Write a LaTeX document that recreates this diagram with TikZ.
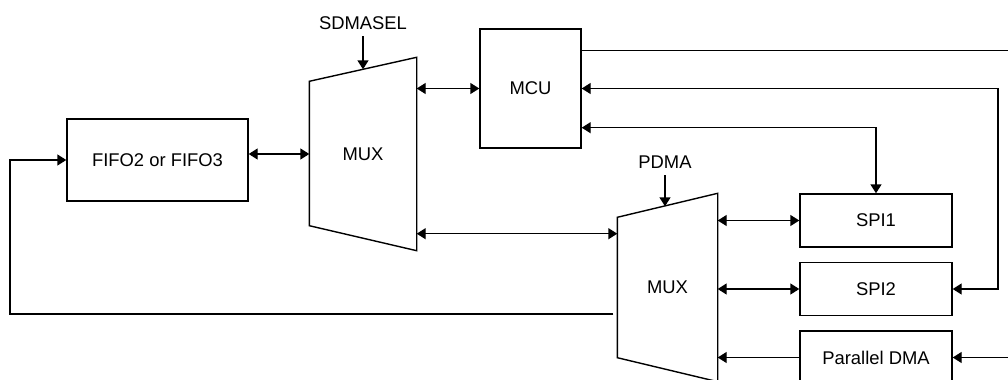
\documentclass[tikz,border=0pt]{standalone}
\usepackage{fontspec}
\setmainfont{Liberation Sans}
\usetikzlibrary{arrows.meta,calc}

\begin{document}
\begin{tikzpicture}[x=0.5pt,y=-0.5pt,
  font=\fontsize{9.2pt}{11pt}\selectfont,
  line width=0.7pt,
  >={Triangle[length=4.5pt,width=5.5pt]},
  blk/.style={draw,inner sep=0pt,minimum width=76pt,minimum height=26.5pt},
  muxbox/.style={inner sep=0pt},
  sel/.style={inner sep=3pt}]
\useasboundingbox (0,0) rectangle (1008,380);
\clip (0,0) rectangle (1008,380);

\node[blk,minimum width=90.5pt,minimum height=41pt] (fifo) at (157.5,160){FIFO2 or FIFO3};
\node[muxbox,minimum width=53pt,minimum height=96pt] (mux1) at (363,154){MUX};
\node[blk,minimum width=50.5pt,minimum height=59.5pt] (mcu) at (530.5,88.5){MCU};
\node[muxbox,minimum width=49.5pt,minimum height=93.5pt] (mux2) at (667.5,287.5){MUX};
\node[blk] (spi1) at (876,220.5){SPI1};
\node[blk] (spi2) at (876,289){SPI2};
\node[blk] (pdma) at (876,357.5){Parallel DMA};
\node[sel] (sdmasel) at (363,23){SDMASEL};
\node[sel] (pdmasel) at (665,162){PDMA};

% mux outlines
\draw (mux1.north east) -- (mux1.south east) -- ($(mux1.south west)+(0,-25)$) -- ($(mux1.north west)+(0,24)$) -- cycle;
\draw (mux2.north east) -- (mux2.south east) -- ($(mux2.south west)+(0,-24)$) -- ($(mux2.north west)+(0,24)$) -- cycle;

\coordinate (mux1top) at ($(mux1.north)+(0,12)$);
\coordinate (mux2top) at ($(mux2.north)+(0,13)$);
\coordinate (m12) at ($(mux1.south east)+(0,-17)$);
\coordinate (mcuout) at ($(mcu.north east)+(0,22)$);
\coordinate (mcuin) at ($(mcu.south east)+(0,-21)$);
\coordinate (fb) at ($(mux2.west)+(-4,26.5)$);
\coordinate (rx) at (998,0);
\coordinate (lx) at (10,0);
\coordinate (edge) at (1008,0);

\draw[->] (sdmasel.south) -- (sdmasel.south |- mux1top);
\draw[->] (pdmasel.south) -- (pdmasel.south |- mux2top);

\draw[<->] (fifo.east |- mux1.west) -- (mux1.west);
\draw[<->] (mux1.east |- mcu.west) -- (mcu.west);
\draw[<->] (m12) -- (m12 -| mux2.west);
\draw[<->] (mux2.east |- spi1.west) -- (spi1.west);
\draw[<->] (mux2.east |- spi2.west) -- (spi2.west);
\draw[->] (pdma.west) -- (mux2.east |- pdma.west);
\draw[->] (edge |- pdma.east) -- (pdma.east);

\draw (mcuout) -- (mcuout -| edge);
\draw[<->] (mcu.east) -- (mcu.east -| rx) |- (spi2.east);
\draw[<->] (mcuin) -| (spi1.north);
\draw[->] (fb) -- (fb -| lx) |- (fifo.west);
\end{tikzpicture}
\end{document}
